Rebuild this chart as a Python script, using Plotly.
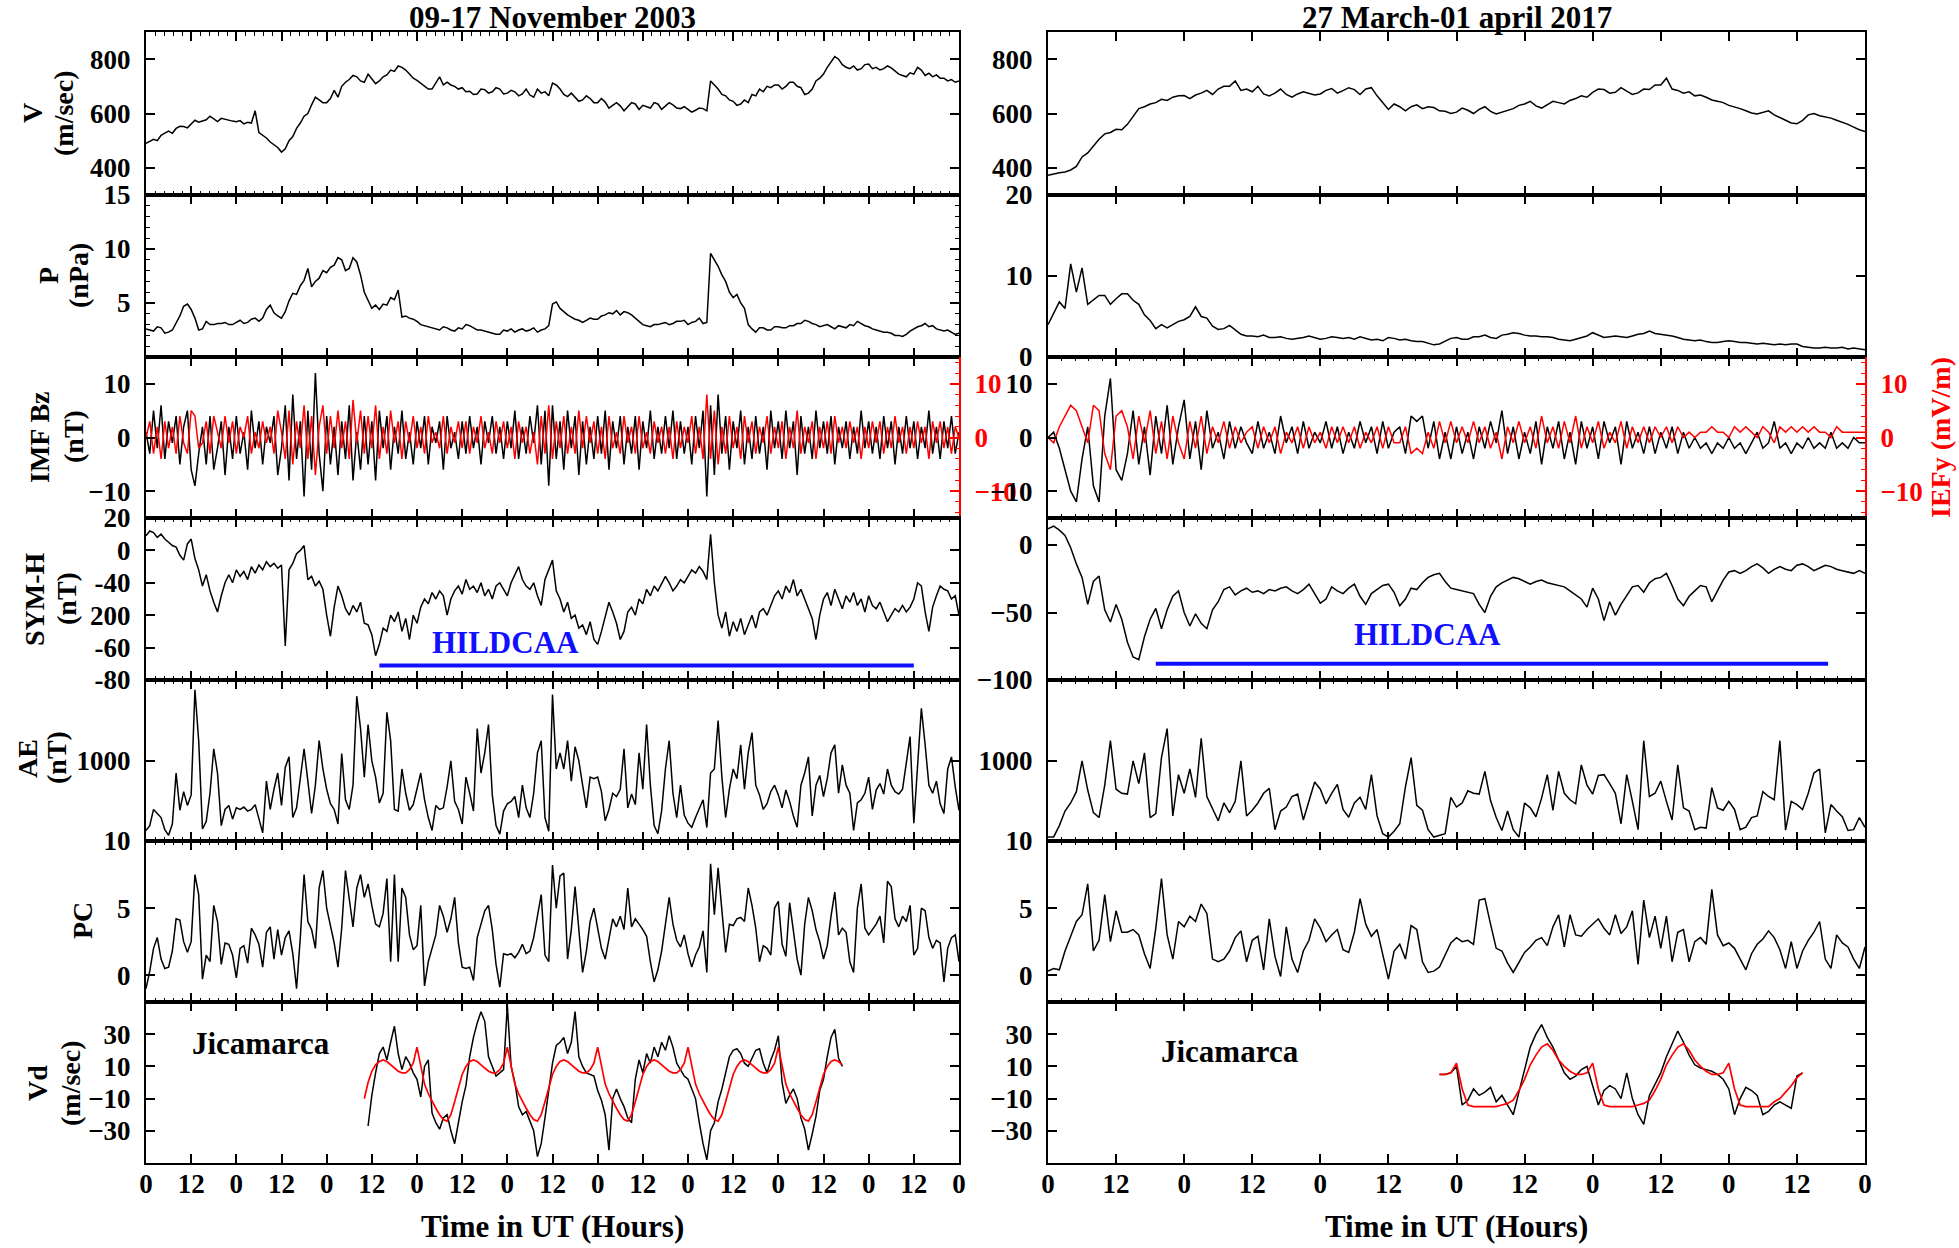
import plotly.graph_objects as go

# ======================= DATA =======================
# ---------- Left column: 09-17 November 2003 (hours) ----------
hours_L1 = list(range(0, 217))

v_left = [490,498,505,500,520,528,535,527,545,553,
          552,547,560,575,568,572,577,590,580,570,
          582,578,575,572,570,574,562,568,565,610,
          530,520,510,495,485,475,458,470,500,515,
          545,565,590,600,632,660,650,640,640,655,
          685,660,700,715,725,740,735,720,715,745,
          728,710,720,735,742,760,755,775,770,760,
          745,730,722,712,700,690,690,715,735,705,
          715,705,700,690,695,680,682,670,672,690,
          688,675,680,695,690,672,675,685,680,665,
          672,690,668,660,690,675,680,665,712,705,
          690,670,662,675,660,645,650,665,655,640,
          640,655,642,620,630,640,628,610,625,640,
          635,615,630,625,620,640,635,615,628,640,
          632,620,618,625,615,605,612,620,618,610,
          720,705,690,670,665,650,645,630,635,650,
          640,670,665,690,680,700,695,705,705,690,
          700,715,715,700,695,670,675,690,720,730,
          745,770,790,810,800,780,770,765,775,760,
          765,780,782,765,770,760,765,775,768,755,
          745,740,735,750,745,770,760,740,748,735,
          742,730,730,720,725,715,720]

p_left = [2.6,2.5,2.4,2.8,2.7,2.2,2.3,2.5,3.1,3.8,
          4.7,4.9,4.4,3.6,2.5,2.6,3.3,3.0,3.0,3.1,
          3.1,3.2,3.0,3.0,3.2,3.4,3.1,3.2,3.5,3.6,
          3.3,3.6,4.4,4.8,4.1,3.8,3.6,4.2,5.2,5.9,
          5.8,6.6,7.1,8.2,6.5,7.0,7.3,8.0,7.8,8.3,
          8.5,9.2,9.0,8.0,8.2,9.2,8.8,7.6,6.0,5.2,
          4.5,4.8,4.4,4.9,4.8,5.5,5.3,6.2,3.7,3.8,
          3.6,3.5,3.3,3.0,2.9,2.8,2.7,2.6,2.5,2.8,
          2.7,2.5,2.4,2.7,2.6,3.0,2.9,2.7,2.5,2.5,
          2.4,2.3,2.2,2.1,2.1,2.5,2.4,2.6,2.3,2.5,
          2.6,2.4,2.5,2.7,2.3,2.5,2.6,2.9,4.9,5.1,
          4.5,4.2,3.9,3.7,3.5,3.4,3.2,3.4,3.6,3.5,
          3.5,3.8,3.9,4.1,4.0,4.3,3.9,4.2,4.1,3.9,
          3.6,3.3,3.0,2.9,2.8,3.0,3.0,3.1,3.2,3.0,
          3.1,3.3,3.3,3.4,3.0,3.2,3.3,3.6,3.1,3.2,
          9.6,9.0,8.4,7.6,7.0,6.0,5.5,5.8,5.0,4.5,
          3.0,2.6,2.3,2.7,2.7,2.5,2.5,2.8,2.8,2.7,
          2.7,2.9,2.9,3.1,3.1,3.4,3.3,3.1,3.0,2.8,
          2.9,3.0,2.8,2.6,2.9,2.8,2.7,3.0,2.9,3.3,
          3.1,2.9,2.8,2.6,2.5,2.4,2.3,2.3,2.2,2.0,
          2.0,1.9,2.1,2.4,2.6,2.8,2.9,3.1,2.8,2.9,
          2.6,2.5,2.4,2.5,2.3,2.1,2.2]

bz_left = [1,-3,5,-2,6,-4,3,-1,4,-5,2,5,
           -6,-9,-3,2,-5,4,-6,-2,3,-7,2,-4,
           4,-3,1,-6,5,-2,3,-5,2,-1,4,-7,
           -2,6,-8,8,-4,3,-11,5,-6,12,-3,-10,
           4,-5,2,-7,3,-4,6,-8,1,-6,4,-5,
           3,-8,5,-2,4,-6,2,-3,5,-4,1,-5,
           3,-2,4,-5,2,-1,3,-6,4,-2,1,-4,
           3,-3,4,-2,2,-5,3,-1,4,-3,2,-4,
           3,-2,5,-4,2,-3,4,-1,6,-5,5,-9,
           6,-4,3,-6,5,-2,4,-7,3,-5,2,-4,
           4,-3,5,-6,3,-2,4,-5,2,-3,4,-6,
           3,-2,5,-4,2,-3,4,-2,5,-4,3,-3,
           2,-5,4,-2,5,-11,6,-7,8,-3,4,-6,
           3,-2,5,-5,2,-4,4,-3,2,-6,5,-2,
           3,-4,5,-2,3,-7,4,-3,2,-4,5,-2,
           3,-3,4,-5,2,-2,3,-4,2,-3,5,-2,
           3,-3,2,-4,4,-2,3,-5,2,-3,4,-2,
           3,-4,2,-2,5,-3,2,-4,3,-2,4,-3,
           1]

iefy_left = [0,3,-3,2,-4,3,-2,2,-3,4,-1,-3,
             5,4,-2,-1,3,-3,4,1,-2,4,-1,3,
             -3,2,0,4,-3,1,-2,3,-1,2,-3,5,
             1,-4,5,-5,3,-2,6,-4,4,-7,2,6,
             -3,4,-2,5,-2,3,-4,7,-1,5,-3,4,
             -2,6,-4,2,-3,5,-1,3,-4,3,-1,4,
             -2,2,-3,4,-1,1,-2,4,-3,2,-1,3,
             -2,3,-3,2,-1,4,-2,1,-3,3,-1,3,
             -2,2,-4,3,-1,2,-3,1,-5,4,-3,6,
             -4,3,-2,4,-3,2,-3,5,-2,4,-1,3,
             -3,2,-4,4,-2,1,-3,4,-1,2,-3,4,
             -2,1,-3,3,-1,2,-3,2,-4,3,-2,2,
             -1,4,-3,2,-4,8,-4,5,-5,2,-3,4,
             -2,2,-4,4,-1,3,-3,2,-1,4,-3,2,
             -2,3,-4,2,-2,5,-3,2,-1,3,-4,2,
             -2,3,-3,4,-1,2,-2,3,-1,2,-4,2,
             -2,3,-1,3,-3,2,-2,4,-1,2,-3,2,
             -2,3,-1,2,-4,3,-1,3,-2,2,-3,2,
             0]

symh_left = [9,12,11,8,10,7,5,3,2,-3,
             -6,4,7,-5,-12,-22,-15,-25,-32,-38,
             -28,-20,-15,-20,-12,-16,-13,-18,-10,-14,
             -9,-12,-7,-10,-8,-11,-9,-59,-12,-8,
             -2,0,3,-18,-16,-22,-19,-24,-40,-53,
             -35,-22,-28,-36,-40,-34,-38,-32,-45,-46,
             -52,-65,-58,-48,-50,-40,-44,-38,-50,-42,
             -55,-40,-45,-35,-30,-33,-26,-30,-25,-28,
             -40,-30,-25,-22,-27,-18,-24,-22,-26,-20,
             -28,-24,-30,-22,-20,-24,-28,-20,-15,-10,
             -18,-22,-24,-20,-28,-34,-18,-12,-6,-25,
             -30,-38,-32,-42,-40,-48,-46,-52,-44,-55,
             -58,-50,-40,-32,-38,-45,-55,-50,-38,-35,
             -40,-30,-33,-24,-28,-22,-25,-20,-16,-20,
             -25,-22,-18,-20,-16,-12,-14,-10,-13,-18,
             10,-20,-40,-48,-38,-53,-44,-50,-42,-52,
             -46,-40,-48,-38,-36,-40,-34,-28,-25,-30,
             -22,-26,-18,-28,-24,-30,-36,-42,-55,-40,
             -30,-26,-34,-24,-30,-36,-28,-32,-26,-34,
             -30,-38,-28,-34,-36,-32,-38,-44,-40,-36,
             -38,-34,-38,-35,-30,-20,-22,-38,-50,-35,
             -28,-22,-24,-25,-30,-28,-40]

ae_left = [140,200,400,350,300,150,80,220,850,390,
           620,450,580,1880,1250,160,250,600,1150,850,
           200,400,450,280,420,400,430,380,400,460,
           300,110,750,400,650,850,450,920,1050,300,
           420,800,1150,750,350,700,1250,900,650,470,
           400,220,1090,520,400,700,1800,1400,800,1450,
           1000,800,480,600,1600,1250,400,380,900,600,
           390,460,670,850,520,300,140,450,400,420,
           680,1000,500,400,220,800,600,380,1400,850,
           1100,1450,580,200,95,380,470,500,560,300,
           700,420,300,600,1100,1250,300,130,1820,900,
           1100,900,1250,750,1175,1000,700,420,800,780,
           800,620,260,400,600,560,650,1150,420,590,
           460,1100,650,1450,700,200,100,385,900,1250,
           600,300,700,330,230,180,300,420,520,176,
           850,900,1500,800,300,650,900,780,1200,650,
           1100,1350,700,580,400,470,620,700,580,420,
           640,500,320,180,700,850,1050,320,700,820,
           560,780,1100,1200,600,950,700,600,140,480,
           520,600,800,400,640,720,590,900,700,620,
           590,650,1000,1300,230,1000,1650,1200,700,600,
           750,470,350,900,1050,680,390]

pc_left = [-1.0,0.3,2.0,2.8,1.2,0.5,0.6,1.8,4.2,4.1,
           2.5,1.7,2.5,7.5,6.0,-0.3,1.5,1.0,5.2,4.0,
           0.8,2.4,2.3,1.5,-0.2,2.0,2.2,0.9,3.5,3.0,
           2.3,0.6,3.2,3.6,1.2,3.4,1.5,2.8,3.3,1.6,
           -1.0,2.8,7.5,4.0,3.4,2.0,6.5,7.8,5.0,3.6,
           2.4,0.6,3.5,7.8,5.6,3.6,6.5,7.5,5.8,6.8,
           5.2,3.8,3.6,4.6,7.2,1.0,7.5,1.0,6.5,5.8,
           3.0,1.9,2.2,5.2,-0.8,1.0,2.0,3.0,5.2,4.4,
           3.2,4.2,5.8,2.4,0.6,0.5,0.6,-0.4,2.8,3.8,
           4.8,5.2,3.4,0.8,-0.9,1.6,1.5,1.6,1.3,1.7,
           2.3,1.6,1.8,2.8,4.5,6.0,1.5,1.0,8.2,5.0,
           7.4,7.6,1.2,3.4,6.6,3.5,0.2,1.8,4.0,5.0,
           3.5,2.0,1.2,2.6,4.2,3.6,4.4,3.4,6.5,3.6,
           4.2,3.8,3.4,2.9,1.0,-0.5,0.4,1.8,3.9,5.8,
           3.8,2.6,2.1,3.0,1.6,0.6,1.5,2.1,3.3,0.2,
           8.3,4.5,8.0,4.9,1.7,3.8,3.7,4.2,4.3,4.0,
           6.5,5.2,3.5,1.0,2.2,2.0,1.5,5.0,5.5,2.3,
           1.4,5.4,3.4,1.2,0.0,3.8,5.8,4.8,3.4,2.5,
           1.2,2.2,4.4,6.2,3.0,3.5,3.2,1.0,0.2,5.0,
           6.8,3.5,3.0,3.4,3.8,4.4,2.4,7.0,6.6,4.2,
           3.6,4.4,4.0,5.2,1.5,2.0,5.0,4.8,2.8,2.0,
           2.6,2.4,-0.5,2.0,2.8,3.0,1.0]

hours_vd_left = list(range(59, 186))
vd_left = [-27,-8,6,18,22,14,25,35,18,8,
           16,12,6,2,-9,10,14,-19,-25,-29,
           -22,-20,-30,-38,-25,-12,-2,16,28,37,
           44,38,16,10,4,6,8,48,10,0,
           -15,-20,-18,-24,-30,-46,-38,-22,-4,12,
           23,25,28,18,25,44,16,10,6,5,
           4,-5,-11,-20,-42,-10,-4,-10,-15,-22,
           -25,2,14,6,18,12,22,16,25,20,
           29,22,12,8,4,2,-4,-10,-25,-38,
           -48,-30,-25,-12,-4,6,16,20,21,18,
           12,10,15,20,21,12,6,14,20,29,
           0,-13,-8,-4,-10,-22,-29,-42,-32,-21,
           -5,2,16,28,33,15,10]

hours_vdm_left = list(range(58, 186))
vd_model_left = [-10,0,7,11,13,14,13,11,9,7,6,6,8,12,
                 22,10,-1,-7,-12,-16,-20,-23,-24,-20,-12,-3,5,10,13,14,13,11,9,7,6,6,8,12,
                 22,10,-1,-7,-12,-16,-20,-23,-24,-20,-12,-3,5,10,13,14,13,11,9,7,6,6,8,12,
                 22,10,-1,-7,-12,-16,-20,-23,-24,-20,-12,-3,5,10,13,14,13,11,9,7,6,6,8,12,
                 22,10,-1,-7,-12,-16,-20,-23,-24,-20,-12,-3,5,10,13,14,13,11,9,7,6,6,8,12,
                 22,10,-1,-7,-12,-16,-20,-23,-24,-20,-12,-3,5,10,13,14,13,11]

hildcaa_left_hours = [62, 204]
hildcaa_left_level = [-71, -71]

# ---------- Right column: 27 March - 01 April 2017 (hours) ----------
hours_R1 = list(range(0, 145))

v_right = [373,378,382,385,392,405,440,455,480,505,
           525,530,542,540,560,590,618,625,635,640,
           652,648,660,665,666,655,668,675,685,670,
           690,700,700,720,685,690,680,700,672,665,
           675,690,670,660,672,680,675,668,672,685,
           692,675,684,695,688,670,690,695,665,640,
           615,635,625,610,625,632,618,625,622,610,
           608,600,605,620,612,600,615,625,608,598,
           605,612,618,630,635,645,628,620,632,645,
           640,635,648,655,665,660,678,690,688,675,
           678,695,682,670,676,690,688,705,705,730,
           690,685,675,680,665,668,660,650,645,640,
           630,625,618,610,602,598,605,610,595,585,
           572,565,562,575,595,600,592,588,583,575,
           568,560,550,540,534]

p_right = [4.0,5.5,6.8,6.0,11.5,8.0,11.0,6.5,7.0,7.6,
           7.6,6.5,7.2,7.8,7.8,7.0,6.5,5.2,4.5,3.5,
           4.0,3.6,4.0,4.4,4.6,5.0,6.2,5.0,4.8,3.8,
           3.4,3.5,3.9,3.3,2.8,2.6,2.6,2.5,2.7,2.4,
           2.4,2.5,2.3,2.2,2.3,2.4,2.6,2.4,2.2,2.3,
           2.5,2.4,2.3,2.4,2.2,2.5,2.3,2.1,2.2,2.0,
           2.4,2.3,2.1,2.2,2.0,1.9,1.9,1.7,1.5,1.6,
           2.0,2.3,2.4,2.2,2.2,2.5,2.5,2.7,2.4,2.3,
           2.7,2.8,3.0,2.9,2.7,2.6,2.6,2.5,2.5,2.4,
           2.2,2.1,2.0,2.2,2.4,2.6,3.0,2.7,2.4,2.5,
           2.6,2.5,2.4,2.6,2.8,2.9,3.2,2.9,2.8,2.7,
           2.6,2.4,2.2,2.1,2.0,2.1,1.9,1.8,1.8,1.9,
           2.0,1.9,1.8,1.8,1.7,1.6,1.7,1.6,1.5,1.6,
           1.5,1.6,1.6,1.3,1.2,1.1,1.1,1.2,1.1,1.1,
           1.2,1.0,1.1,1.0,0.9]

bz_right = [0,1,-2,-6,-10,-12,-4,2,-9,-12,4,11,
            -6,-8,-3,5,-5,2,-7,4,-3,6,-5,2,
            7,-4,3,-6,5,-2,1,-4,3,-2,2,-1,
            -3,3,-2,1,-3,4,-1,2,-3,3,-2,1,
            -1,3,-2,2,-3,1,-2,3,-1,2,-3,3,
            -2,1,2,-3,4,3,4,-2,3,-4,1,-4,
            2,-3,1,-4,2,-2,3,-1,5,-3,2,-4,
            1,-3,3,-5,2,-2,3,-4,1,-5,3,-2,
            2,-4,3,-1,2,-5,3,-2,1,-3,2,-3,
            1,-2,2,-3,1,-2,0,-2,-1,-3,-1,-2,
            0,-2,-1,-3,-1,1,-2,-1,3,-2,-1,-3,
            -1,-2,0,-2,-1,-2,1,-2,-1,-2,0,-1,
            -1]

iefy_right = [0,-1,2,4,6,5,2,-1,6,5,-3,-6,
              4,5,2,-4,4,-1,5,-3,3,-4,4,-1,
              -4,3,-2,4,-3,2,-1,3,-2,2,-1,1,
              2,-2,2,-1,2,-3,1,-1,2,-2,2,-1,
              1,-2,2,-1,2,-1,2,-2,1,-1,2,-2,
              2,-1,-1,2,-3,-2,-3,1,-2,3,-1,3,
              -1,2,-1,3,-1,2,-2,1,-4,2,-1,3,
              -1,2,-2,4,-1,2,-2,3,-1,4,-2,2,
              -1,3,-2,1,-1,3,-2,2,-1,2,-1,2,
              0,2,-1,2,0,1,0,1,1,2,1,1,
              0,2,1,2,1,0,2,1,-1,2,1,2,
              1,2,1,2,1,1,0,2,1,1,1,1,
              1]

symh_right = [12,14,11,7,-2,-14,-24,-44,-27,-23,
              -48,-57,-44,-55,-72,-83,-85,-68,-55,-47,
              -62,-48,-38,-34,-50,-60,-51,-58,-62,-48,
              -42,-33,-31,-37,-34,-32,-35,-34,-36,-33,
              -34,-32,-31,-34,-36,-33,-29,-36,-43,-40,
              -31,-34,-36,-32,-29,-38,-44,-36,-33,-30,
              -29,-35,-45,-40,-32,-33,-28,-24,-22,-21,
              -27,-32,-33,-34,-35,-36,-44,-50,-38,-31,
              -28,-26,-24,-25,-27,-29,-27,-26,-28,-29,
              -30,-31,-34,-37,-40,-46,-32,-40,-56,-42,
              -52,-44,-37,-31,-30,-35,-28,-25,-24,-21,
              -30,-40,-45,-38,-34,-30,-31,-42,-34,-26,
              -20,-19,-21,-19,-16,-14,-17,-21,-18,-16,
              -18,-19,-15,-14,-16,-19,-17,-15,-16,-18,
              -19,-20,-21,-19,-21]

ae_right = [59,60,200,380,480,620,1000,640,360,300,
            700,1250,650,600,590,1000,720,1100,300,350,
            1040,1400,320,830,600,900,550,1280,560,400,
            260,480,360,500,1000,320,390,480,600,660,
            150,380,430,560,590,270,500,740,650,470,
            600,710,400,304,480,550,400,830,320,100,
            59,130,223,680,1041,450,390,150,59,80,
            100,550,430,480,630,600,590,870,510,300,
            140,380,150,59,480,420,310,540,830,390,
            870,600,520,470,950,700,590,820,830,720,
            600,223,830,500,150,1250,560,600,750,500,
            270,950,420,380,150,180,170,670,420,390,
            500,400,150,180,300,320,620,560,520,1250,
            145,500,460,400,600,850,900,110,460,380,
            310,140,150,300,180]

pc_right = [0.3,0.5,0.4,1.8,2.9,4.0,4.5,6.8,1.8,2.6,
            6.0,2.5,4.8,3.2,3.2,3.4,3.0,1.6,0.5,3.5,
            7.2,3.0,1.2,4.0,3.6,4.4,4.0,5.3,4.6,1.2,
            1.0,1.2,1.8,2.8,3.3,1.0,2.6,2.9,0.4,4.2,
            1.4,-0.1,3.6,1.2,0.2,1.8,2.6,4.2,3.5,2.5,
            3.0,3.4,1.9,1.7,3.2,5.7,3.8,2.9,3.4,1.5,
            -0.3,1.8,2.3,1.2,3.7,3.4,1.0,0.2,0.3,0.6,
            1.5,2.4,2.8,2.5,2.6,2.3,5.6,5.7,3.8,2.0,
            1.8,0.9,0.2,1.0,1.7,2.1,2.6,2.8,2.2,3.6,
            4.5,2.1,4.5,3.0,2.9,3.4,3.8,4.2,3.5,3.0,
            4.5,3.1,3.6,4.8,0.8,5.6,2.8,4.4,2.0,4.4,
            1.0,3.2,3.4,1.0,2.5,2.8,2.3,6.4,3.0,2.2,
            2.4,2.0,1.2,0.4,1.6,2.3,2.7,3.3,2.8,1.9,
            0.5,2.5,0.5,1.8,2.6,3.2,4.0,1.2,0.5,3.0,
            2.4,2.1,1.2,0.5,2.1]

hours_vd_right = list(range(69, 134))
vd_right = [5,5,6,10,-14,-11,-4,-8,-6,-3,
            -12,-8,-14,-20,-6,8,22,30,36,28,
            22,14,6,2,4,8,10,-2,-14,-5,
            -2,-4,-10,6,-10,-20,-26,-8,-1,6,
            16,24,32,25,17,11,9,8,7,5,
            2,-4,-20,-10,-3,-5,-8,-20,-18,-14,
            -12,-14,-16,4,6]
vd_model_right = [5,5,6,
                  12,-4,-14,-15,-15,-15,-15,-15,-14,-13,-11,-5,2,11,17,22,24,20,14,10,7,5,5,6,
                  12,-4,-14,-15,-15,-15,-15,-15,-14,-13,-11,-5,2,11,17,22,24,20,14,10,7,5,5,6,
                  12,-4,-14,-15,-15,-15,-15,-15,-12,-10,-6,-2,3,6]

hildcaa_right_hours = [19, 137.5]
hildcaa_right_level = [-88, -88]

titles = ["09-17 November 2003", "27 March-01 april 2017"]

for s in (v_left, p_left, bz_left, iefy_left, symh_left, ae_left, pc_left):
    assert len(s) == len(hours_L1), len(s)
assert len(vd_left) == len(hours_vd_left) and len(vd_model_left) == len(hours_vdm_left)
for s in (v_right, p_right, bz_right, iefy_right, symh_right, ae_right, pc_right):
    assert len(s) == len(hours_R1), len(s)
assert len(vd_right) == len(hours_vd_right) and len(vd_model_right) == len(hours_vd_right)

# ======================= LAYOUT =======================
FONT = "Liberation Serif"
W, H = 1959, 1248
ML, MR, MT, MB = 146, 94, 32, 85
PW, PH = W - ML - MR, H - MT - MB
TICK_SIZE = 27
TEXT_SIZE = 31
LW = 1.5


def fx(px):
    return (px - ML) / PW


def fy(py):
    return 1 - (py - MT) / PH


col_dom = [[0, fx(959)], [fx(1048), 1]]
row_edges = [32, 195, 357, 518, 680, 841, 1002, 1163]
row_dom = [[fy(row_edges[r + 1]), fy(row_edges[r])] for r in range(7)]
spans = [216, 144]

tickfont = dict(family=FONT, size=TICK_SIZE, color="black", weight="bold")

# y-axis settings per (col,row): range, tickvals, ticktext, minor dtick
yset = {
    (0, 0): ([300, 900], [400, 600, 800], None, None),
    (0, 1): ([0, 15], [5, 10, 15], None, 1),
    (0, 2): ([-15, 15], [-10, 0, 10], None, None),
    (0, 3): ([-80, 20], [20, 0, -20, -40, -60, -80], ["20", "0", "-40", "200", "-60", "-80"], None),
    (0, 4): ([10, 2000], [10, 1000], None, None),
    (0, 5): ([-2, 10], [0, 5], None, None),
    (0, 6): ([-50, 50], [-30, -10, 10, 30], None, None),
    (1, 0): ([300, 900], [400, 600, 800], None, None),
    (1, 1): ([0, 20], [0, 10, 20], None, None),
    (1, 2): ([-15, 15], [-10, 0, 10], None, None),
    (1, 3): ([-100, 20], [-100, -50, 0], None, None),
    (1, 4): ([10, 2000], [10, 1000], None, None),
    (1, 5): ([-2, 10], [0, 5], None, None),
    (1, 6): ([-50, 50], [-30, -10, 10, 30], None, None),
}
xminor = {
    0: [True, False, False, True, True, True, False],
    1: [False, False, True, True, True, True, False],
}

layout = dict(
    width=W, height=H,
    margin=dict(l=ML, r=MR, t=MT, b=MB),
    paper_bgcolor="white", plot_bgcolor="white",
    showlegend=False,
    font=dict(family=FONT, size=TEXT_SIZE, color="black"),
)

for c in range(2):
    span = spans[c]
    tv = list(range(0, span + 1, 12))
    tt = ["0" if (v // 12) % 2 == 0 else "12" for v in tv]
    for r in range(7):
        n = c * 7 + r + 1
        xa = dict(domain=col_dom[c], anchor=f"y{n}", range=[0, span],
                  tickmode="array", tickvals=tv, ticktext=tt,
                  showticklabels=(r == 6), ticks="inside", ticklen=9, tickwidth=1.6,
                  tickcolor="black", showline=True, linewidth=2, linecolor="black",
                  mirror="ticks", showgrid=False, zeroline=False, tickfont=tickfont,
                  ticklabelstandoff=-4)
        if xminor[c][r]:
            xa["minor"] = dict(tickmode="linear", tick0=0, dtick=2.4, ticks="inside",
                               ticklen=4, tickwidth=1, tickcolor="black", showgrid=False)
        layout[f"xaxis{n}"] = xa
        rng, yv, yt, ymin = yset[(c, r)]
        ya = dict(domain=row_dom[r], anchor=f"x{n}", range=rng,
                  tickmode="array", tickvals=yv, ticks="inside", ticklen=9, tickwidth=1.6,
                  tickcolor="black", showline=True, linewidth=2, linecolor="black",
                  mirror=(False if r == 2 else "ticks"), showgrid=False, zeroline=False,
                  tickfont=tickfont, ticklabelstandoff=8)
        if yt is not None:
            ya["ticktext"] = yt
        if ymin is not None:
            ya["minor"] = dict(tickmode="linear", tick0=0, dtick=ymin, ticks="inside",
                               ticklen=4, tickwidth=1, tickcolor="black", showgrid=False)
        layout[f"yaxis{n}"] = ya

# secondary (IEFy) axes
for c, n2 in ((0, 15), (1, 16)):
    n = c * 7 + 3
    layout[f"yaxis{n2}"] = dict(
        overlaying=f"y{n}", anchor=f"x{n}", side="right", range=[-15, 15],
        tickmode="array", tickvals=[-10, 0, 10], ticks="inside", ticklen=9, tickwidth=1.6,
        tickcolor="red", showline=True, linewidth=2, linecolor="red",
        showgrid=False, zeroline=False,
        tickfont=dict(family=FONT, size=TICK_SIZE, color="red", weight="bold"),
        ticklabelstandoff=8,
        minor=dict(tickmode="linear", tick0=0, dtick=2, ticks="inside", ticklen=4,
                   tickwidth=1, tickcolor="red", showgrid=False),
    )

fig = go.Figure()


def add(x, y, n, color="black", width=LW, yaxis=None):
    fig.add_trace(go.Scatter(x=x, y=y, mode="lines", line=dict(color=color, width=width),
                             xaxis=f"x{n}", yaxis=yaxis or f"y{n}", hoverinfo="skip"))


# left column
add(hours_L1, v_left, 1)
add(hours_L1, p_left, 2)
add(hours_L1, bz_left, 3)
add(hours_L1, iefy_left, 3, color="red", yaxis="y15")
add(hours_L1, symh_left, 4)
add(hildcaa_left_hours, hildcaa_left_level, 4, color="#1010ff", width=4)
add(hours_L1, ae_left, 5)
add(hours_L1, pc_left, 6)
add(hours_vd_left, vd_left, 7)
add(hours_vdm_left, vd_model_left, 7, color="red", width=1.7)

# right column
add(hours_R1, v_right, 8)
add(hours_R1, p_right, 9)
add(hours_R1, bz_right, 10)
add(hours_R1, iefy_right, 10, color="red", yaxis="y16")
add(hours_R1, symh_right, 11)
add(hildcaa_right_hours, hildcaa_right_level, 11, color="#1010ff", width=4)
add(hours_R1, ae_right, 12)
add(hours_R1, pc_right, 13)
add(hours_vd_right, vd_right, 14)
add(hours_vd_right, vd_model_right, 14, color="red", width=1.7)

ann = []


def txt(text, xpx, ypx, size=TEXT_SIZE, color="black", angle=0):
    ann.append(dict(text=f"<b>{text}</b>", x=fx(xpx), y=fy(ypx), xref="paper", yref="paper",
                    showarrow=False, xanchor="center", yanchor="middle", textangle=angle,
                    font=dict(family=FONT, size=size, color=color)))


# column titles
txt(titles[0], (146 + 959) / 2, 17)
txt(titles[1], (1048 + 1865) / 2, 17)
# x-axis titles
txt("Time in UT (Hours)", (146 + 959) / 2, 1226)
txt("Time in UT (Hours)", (1048 + 1865) / 2, 1226)
# y-axis titles (left column)
YT = 28
for line, xp, yp in [("V", 33, 113), ("(m/sec)", 64, 113),
                     ("P", 48, 276), ("(nPa)", 78, 276),
                     ("IMF Bz", 40, 437), ("(nT)", 74, 437),
                     ("SYM-H", 34, 599), ("(nT)", 66, 599),
                     ("AE", 27, 758), ("(nT)", 56, 758),
                     ("PC", 82, 921),
                     ("Vd", 37, 1083), ("(m/sec)", 70, 1083)]:
    txt(line, xp, yp, size=YT, angle=-90)
txt("IEFy (mV/m)", 1940, 438, size=YT, color="red", angle=-90)

# in-panel labels
for n, x, y, text, color in [(4, 95.4, -57, "HILDCAA", "#1010ff"),
                             (11, 66.9, -66, "HILDCAA", "#1010ff"),
                             (7, 30.6, 24, "Jicamarca", "black"),
                             (14, 32.0, 19, "Jicamarca", "black")]:
    ann.append(dict(text=f"<b>{text}</b>", x=x, y=y, xref=f"x{n}", yref=f"y{n}",
                    showarrow=False, xanchor="center", yanchor="middle",
                    font=dict(family=FONT, size=TEXT_SIZE, color=color)))

layout["annotations"] = ann
fig.update_layout(**layout)

fig.write_html("out.html", config={"displayModeBar": False},
               post_script="document.body.style.margin='0';document.body.style.overflow='hidden';")
